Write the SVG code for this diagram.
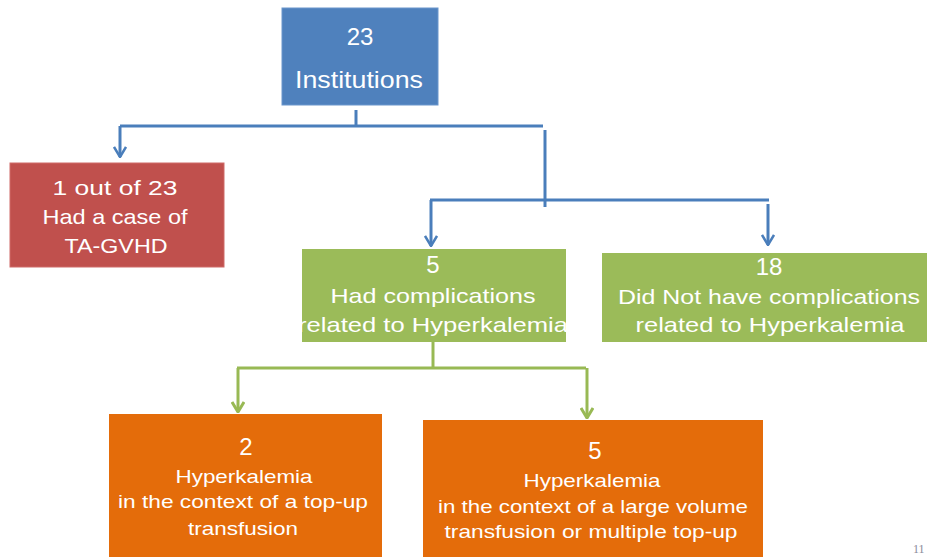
<svg xmlns="http://www.w3.org/2000/svg" width="927" height="557" viewBox="0 0 927 557">
<style>
.t{font-family:"Liberation Sans",Arial,sans-serif;fill:#fff;text-anchor:middle}
.n{font-size:24px}
.m{font-size:21px}
.s{font-size:19px}
.bl{stroke:#4a7ebb;stroke-width:3;fill:none}
.gr{stroke:#98b954;stroke-width:3;fill:none}
</style>
<defs>
<marker id="ab" viewBox="0 0 14 12" refX="7" refY="11" markerWidth="14" markerHeight="12" markerUnits="userSpaceOnUse">
<path d="M1,1 L7,11 L13,1" fill="none" stroke="#4a7ebb" stroke-width="2.5"/>
</marker>
<marker id="ag" viewBox="0 0 14 12" refX="7" refY="11" markerWidth="14" markerHeight="12" markerUnits="userSpaceOnUse">
<path d="M1,1 L7,11 L13,1" fill="none" stroke="#98b954" stroke-width="3"/>
</marker>
<clipPath id="cg1"><rect x="302" y="249" width="264" height="93"/></clipPath>
</defs>
<g id="connectors">
<path class="bl" d="M356,110 V126"/>
<path class="bl" d="M120,126 H543"/>
<path class="bl" d="M120,126 V157" marker-end="url(#ab)"/>
<path class="bl" d="M545,130 V207"/>
<path class="bl" d="M430,200 H769"/>
<path class="bl" d="M431,200 V246" marker-end="url(#ab)"/>
<path class="bl" d="M768,204 V245" marker-end="url(#ab)"/>
<path class="gr" d="M433,342 V367"/>
<path class="gr" d="M237,368 H586"/>
<path class="gr" d="M238,368 V412" marker-end="url(#ag)"/>
<path class="gr" d="M587,368 V418" marker-end="url(#ag)"/>
</g>
<g id="n-institutions">
<rect x="282" y="8" width="156" height="97" fill="#4f81bd" stroke="#6a96cc" stroke-width="1"/>
<text class="t n" x="360" y="45">23</text>
<text class="t n" x="359" y="88" textLength="128" lengthAdjust="spacingAndGlyphs">Institutions</text>
</g>
<g id="n-tagvhd">
<rect x="10" y="163" width="214" height="104" fill="#c0504d" stroke="#cf6b68" stroke-width="1"/>
<text class="t m" x="115" y="195" textLength="125" lengthAdjust="spacingAndGlyphs">1 out of 23</text>
<text class="t m" x="115" y="224" textLength="145" lengthAdjust="spacingAndGlyphs">Had a case of</text>
<text class="t m" x="116" y="253" textLength="103" lengthAdjust="spacingAndGlyphs">TA-GVHD</text>
</g>
<g id="n-had">
<rect x="302" y="249" width="264" height="93" fill="#9bbb59"/>
<g clip-path="url(#cg1)">
<text class="t n" x="433" y="273">5</text>
<text class="t m" x="433" y="303" textLength="205" lengthAdjust="spacingAndGlyphs">Had complications</text>
<text class="t m" x="433" y="332" textLength="270" lengthAdjust="spacingAndGlyphs">related to Hyperkalemia</text>
</g>
</g>
<g id="n-didnot">
<rect x="602" y="253" width="326" height="89" fill="#9bbb59"/>
<text class="t n" x="769" y="275">18</text>
<text class="t m" x="769" y="304" textLength="302" lengthAdjust="spacingAndGlyphs">Did Not have complications</text>
<text class="t m" x="770" y="332" textLength="269" lengthAdjust="spacingAndGlyphs">related to Hyperkalemia</text>
</g>
<g id="n-topup">
<rect x="109" y="414" width="273" height="143" fill="#e46c0a"/>
<text class="t n" x="246" y="455">2</text>
<text class="t s" x="244" y="483" textLength="137" lengthAdjust="spacingAndGlyphs">Hyperkalemia</text>
<text class="t s" x="243" y="508" textLength="250" lengthAdjust="spacingAndGlyphs">in the context of a top-up</text>
<text class="t s" x="243" y="535" textLength="110" lengthAdjust="spacingAndGlyphs">transfusion</text>
</g>
<g id="n-large">
<rect x="423" y="420" width="340" height="137" fill="#e46c0a"/>
<text class="t n" x="595" y="459">5</text>
<text class="t s" x="592" y="487" textLength="137" lengthAdjust="spacingAndGlyphs">Hyperkalemia</text>
<text class="t s" x="593" y="513" textLength="310" lengthAdjust="spacingAndGlyphs">in the context of a large volume</text>
<text class="t s" x="591" y="538" textLength="293" lengthAdjust="spacingAndGlyphs">transfusion or multiple top-up</text>
</g>
<text x="913" y="553" font-family="Liberation Serif,serif" font-size="12" fill="#8a8a9a">11</text>
</svg>
